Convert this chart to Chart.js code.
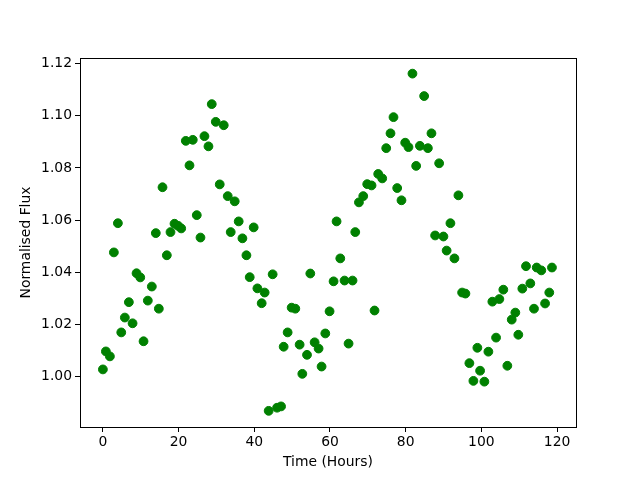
<!DOCTYPE html>
<html>
<head>
<meta charset="utf-8">
<script src="https://cdn.jsdelivr.net/npm/chart.js@4/dist/chart.umd.min.js"></script>
<style>
  html, body { margin: 0; padding: 0; background: #fff; }
  #wrap { width: 640px; height: 480px; }
</style>
</head>
<body>
<div id="wrap"><canvas id="chart" width="640" height="480"></canvas></div>
<script>
// values
var hours = [
  0.0, 0.79, 1.85, 2.90, 3.96, 4.85, 5.80, 6.86, 7.84, 8.89,
  9.87, 10.74, 11.87, 12.93, 13.98, 14.78, 15.75, 16.89, 17.86, 18.92,
  19.89, 20.69, 21.90, 22.88, 23.75, 24.80, 25.78, 26.83, 27.89, 28.76,
  29.82, 30.87, 31.93, 32.98, 33.77, 34.83, 35.88, 36.86, 37.92, 38.79,
  39.84, 40.82, 41.95, 42.74, 43.80, 44.85, 46.02, 47.07, 47.76, 48.81,
  49.87, 50.84, 51.98, 52.69, 53.93, 54.80, 55.94, 56.99, 57.78, 58.76,
  59.89, 60.95, 61.74, 62.72, 63.85, 64.91, 65.96, 66.68, 67.65, 68.79,
  69.84, 70.98, 71.77, 72.74, 73.80, 74.86, 75.99, 76.78, 77.76, 78.89,
  79.87, 80.74, 81.79, 82.77, 83.75, 84.88, 85.86, 86.81, 87.78, 88.84,
  89.97, 90.82, 91.82, 92.88, 93.93, 94.91, 95.78, 96.83, 97.89, 98.94,
  99.66, 100.79, 101.85, 102.90, 103.88, 104.75, 105.80, 106.86, 108.02, 108.97,
  109.76, 110.82, 111.79, 112.93, 113.90, 114.62, 115.83, 116.83, 117.94, 118.65
];
var flux = [
  1.0027, 1.0096, 1.0077, 1.0476, 1.0588, 1.0169, 1.0226, 1.0285, 1.0204, 1.0396,
  1.0380, 1.0135, 1.0291, 1.0345, 1.0550, 1.0260, 1.0726, 1.0465, 1.0554, 1.0586,
  1.0578, 1.0568, 1.0904, 1.0810, 1.0908, 1.0619, 1.0533, 1.0922, 1.0883, 1.1045,
  1.0977, 1.0737, 1.0964, 1.0692, 1.0554, 1.0672, 1.0595, 1.0530, 1.0465, 1.0381,
  1.0572, 1.0338, 1.0281, 1.0322, 0.9868, 1.0392, 0.9880, 0.9885, 1.0114, 1.0169,
  1.0264, 1.0260, 1.0122, 1.0010, 1.0083, 1.0395, 1.0131, 1.0107, 1.0038, 1.0165,
  1.0250, 1.0365, 1.0595, 1.0453, 1.0368, 1.0126, 1.0368, 1.0554, 1.0668, 1.0692,
  1.0738, 1.0733, 1.0253, 1.0777, 1.0760, 1.0876, 1.0933, 1.0995, 1.0723, 1.0676,
  1.0897, 1.0880, 1.1162, 1.0808, 1.0885, 1.1076, 1.0876, 1.0933, 1.0541, 1.0818,
  1.0537, 1.0483, 1.0588, 1.0453, 1.0695, 1.0322, 1.0318, 1.0051, 0.9983, 1.0110,
  1.0022, 0.9980, 1.0095, 1.0287, 1.0149, 1.0297, 1.0333, 1.0041, 1.0218, 1.0245,
  1.0160, 1.0337, 1.0423, 1.0357, 1.0260, 1.0418, 1.0407, 1.0280, 1.0322, 1.0418
];
var xTickValues = [0, 20, 40, 60, 80, 100, 120];
var yTickValues = [1.00, 1.02, 1.04, 1.06, 1.08, 1.10, 1.12];

var points = [];
for (var i = 0; i < hours.length; i++) {
  points.push({x: hours[i], y: flux[i]});
}

var font = {family: "'DejaVu Sans', sans-serif", size: 13.9};

// matplotlib style frame round the plot area
var framePlugin = {
  id: 'frame',
  afterDraw: function(chart) {
    var a = chart.chartArea;
    var ctx = chart.ctx;
    ctx.save();
    ctx.strokeStyle = '#000';
    ctx.lineWidth = 1;
    ctx.strokeRect(Math.round(a.left) + 0.5, Math.round(a.top) + 0.5,
      Math.round(a.right - a.left), Math.round(a.bottom - a.top));
    ctx.restore();
  }
};

new Chart(document.getElementById('chart').getContext('2d'), {
  type: 'scatter',
  data: {
    datasets: [{
      data: points,
      backgroundColor: '#008000',
      borderColor: '#008000',
      borderWidth: 1,
      pointRadius: 4.4,
      pointHoverRadius: 4.4
    }]
  },
  options: {
    responsive: false,
    animation: false,
    events: [],
    layout: {padding: {top: 58, right: 64, left: 0, bottom: 0}},
    plugins: {legend: {display: false}, tooltip: {enabled: false}},
    scales: {
      x: {
        type: 'linear',
        min: -6.05,
        max: 125.0,
        afterBuildTicks: function(scale) {
          scale.ticks = xTickValues.map(function(v) { return {value: v}; });
        },
        afterFit: function(scale) { scale.height = 53; },
        grid: {drawOnChartArea: false, drawTicks: true, tickLength: 5, color: '#000'},
        border: {display: false},
        ticks: {color: '#000', font: font, padding: 2, maxRotation: 0,
          callback: function(v) { return String(v); }},
        title: {display: true, text: 'Time (Hours)', color: '#000', font: font,
          padding: {top: 0, bottom: 9}}
      },
      y: {
        type: 'linear',
        min: 0.9806,
        max: 1.1222,
        afterBuildTicks: function(scale) {
          scale.ticks = yTickValues.map(function(v) { return {value: v}; });
        },
        afterFit: function(scale) { scale.width = 80; },
        grid: {drawOnChartArea: false, drawTicks: true, tickLength: 5, color: '#000'},
        border: {display: false},
        ticks: {color: '#000', font: font, padding: 3,
          callback: function(v) { return Number(v).toFixed(2); }},
        title: {display: true, text: 'Normalised Flux', color: '#000', font: font,
          padding: {top: 18, bottom: 0}}
      }
    }
  },
  plugins: [framePlugin]
});
</script>
</body>
</html>
